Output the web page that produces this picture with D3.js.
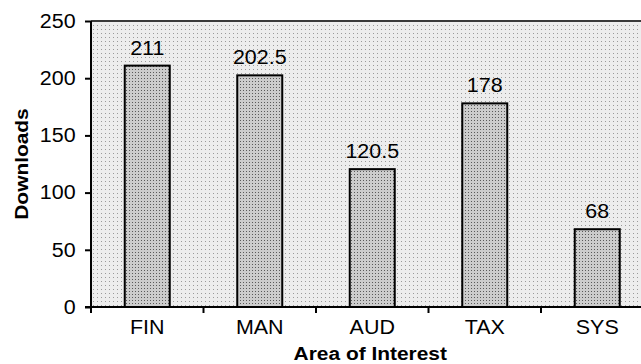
<!DOCTYPE html>
<html>
<head>
<meta charset="utf-8">
<script src="https://cdn.jsdelivr.net/npm/d3@7"></script>
<style>
  html, body { margin: 0; padding: 0; background: #fff; }
  svg { display: block; }
  text { font-family: "Liberation Sans", Arial, Helvetica, sans-serif; fill: #000; }
</style>
</head>
<body>
<svg id="chart" width="641" height="364"></svg>
<script>
const categories = ["FIN", "MAN", "AUD", "TAX", "SYS"];
const downloads = [211, 202.5, 120.5, 178, 68];
const yTicks = [0, 50, 100, 150, 200, 250];
const xTitle = "Area of Interest";
const yTitle = "Downloads";

const W = 641, H = 364;
const margin = { left: 91, top: 21, bottom: 57 };
const plotRight = 653.5;
const svg = d3.select("#chart");
const defs = svg.append("defs");

// background dotted pattern (sparse, light, low contrast)
const bg = defs.append("pattern").attr("id", "bgdots")
  .attr("patternUnits", "userSpaceOnUse").attr("width", 4).attr("height", 4);
bg.append("rect").attr("width", 4).attr("height", 4).attr("fill", "#ededed");
bg.append("rect").attr("x", 1).attr("y", 1).attr("width", 1).attr("height", 1).attr("fill", "#9a9a9a");

// bar dotted pattern (denser, darker)
const bp = defs.append("pattern").attr("id", "bardots")
  .attr("patternUnits", "userSpaceOnUse").attr("width", 3).attr("height", 3);
bp.append("rect").attr("width", 3).attr("height", 3).attr("fill", "#cccccc");
bp.append("rect").attr("x", 0).attr("y", 0).attr("width", 1).attr("height", 1).attr("fill", "#5a5a5a");

const x = d3.scaleBand().domain(categories)
  .range([margin.left, plotRight]).paddingInner(0.6).paddingOuter(0.3);
const y = d3.scaleLinear().domain([0, 250]).range([H - margin.bottom, margin.top]);

const FS = 19.5, SX = 1.1;

// plot background
svg.append("rect")
  .attr("x", margin.left).attr("y", y(250))
  .attr("width", plotRight - margin.left).attr("height", y(0) - y(250))
  .attr("fill", "url(#bgdots)");

// top border
svg.append("line")
  .attr("x1", margin.left).attr("x2", plotRight)
  .attr("y1", y(250)).attr("y2", y(250))
  .attr("stroke", "#3a3a3a").attr("stroke-width", 2);

// bars
svg.append("g").selectAll("rect").data(downloads).join("rect")
  .attr("x", (d, i) => x(categories[i]))
  .attr("y", d => y(d))
  .attr("width", x.bandwidth())
  .attr("height", d => y(0) - y(d))
  .attr("fill", "url(#bardots)")
  .attr("stroke", "#000").attr("stroke-width", 2);

// value labels
svg.append("g").selectAll("text").data(downloads).join("text")
  .attr("transform", (d, i) => `translate(${x(categories[i]) + x.bandwidth() / 2},${y(d) - 11}) scale(${SX},1)`)
  .attr("text-anchor", "middle")
  .style("font-size", FS + "px")
  .text(d => d);

// y axis
const yAxis = svg.append("g")
  .attr("transform", `translate(${margin.left},0)`)
  .call(d3.axisLeft(y).tickValues(yTicks).tickSize(6).tickPadding(8));
yAxis.select(".domain").remove();
yAxis.selectAll(".tick line").attr("stroke", "#000").attr("stroke-width", 2);
yAxis.selectAll(".tick text")
  .style("font-size", FS + "px").style("font-family", null)
  .attr("transform", `scale(${SX},1)`);
yAxis.append("line")
  .attr("x1", 0).attr("x2", 0).attr("y1", y(250)).attr("y2", y(0))
  .attr("stroke", "#000").attr("stroke-width", 2);

// x axis
const xAxis = svg.append("g")
  .attr("transform", `translate(0,${y(0)})`)
  .call(d3.axisBottom(x).tickSize(0).tickPadding(13));
xAxis.select(".domain").remove();
xAxis.selectAll(".tick text")
  .style("font-size", FS + "px").style("font-family", null)
  .attr("transform", `scale(${SX},1)`);
xAxis.append("line")
  .attr("x1", margin.left - 6).attr("x2", plotRight).attr("y1", 0).attr("y2", 0)
  .attr("stroke", "#000").attr("stroke-width", 2);
// category boundary ticks
const boundaries = [margin.left].concat(categories.map(c => x(c) + x.bandwidth() / 2 + x.step() / 2));
xAxis.selectAll("line.bt").data(boundaries).join("line").attr("class", "bt")
  .attr("x1", d => d).attr("x2", d => d).attr("y1", 0).attr("y2", 6)
  .attr("stroke", "#000").attr("stroke-width", 2);

// axis titles
svg.append("text")
  .attr("transform", `translate(${(margin.left + plotRight) / 2 - 2},360) scale(${SX},1)`)
  .attr("text-anchor", "middle")
  .style("font-size", "19px").style("font-weight", "bold")
  .text(xTitle);

svg.append("text")
  .attr("transform", `translate(28,${(y(0) + y(250)) / 2}) rotate(-90) scale(${SX},1)`)
  .attr("text-anchor", "middle")
  .style("font-size", "19px").style("font-weight", "bold")
  .text(yTitle);
</script>
</body>
</html>
